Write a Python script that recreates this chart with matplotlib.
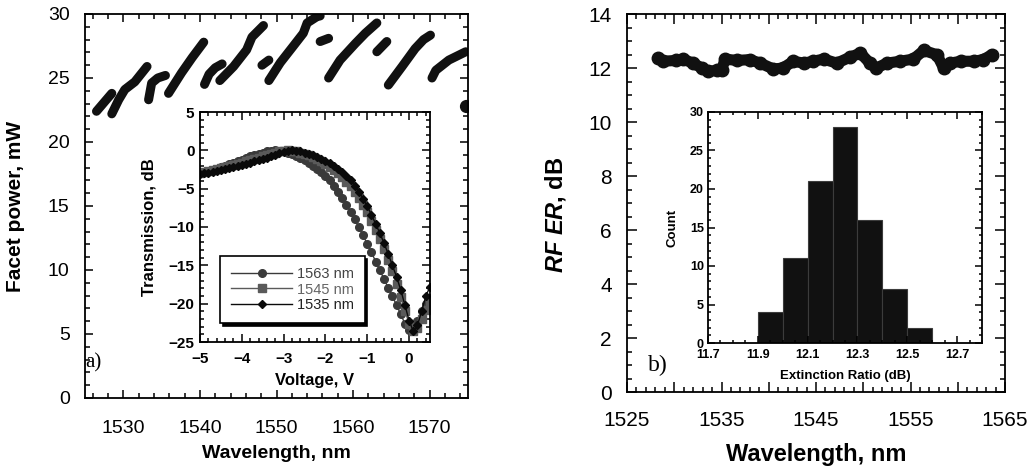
import numpy as np
import matplotlib
matplotlib.use("Agg")
import matplotlib.pyplot as plt
from matplotlib.ticker import MultipleLocator, FuncFormatter

plt.rcParams['font.family'] = ['Liberation Sans', 'DejaVu Sans']
plt.rcParams['mathtext.fontset'] = 'custom'
plt.rcParams['mathtext.rm'] = 'Liberation Sans'
plt.rcParams['mathtext.bf'] = 'Liberation Sans:bold'
plt.rcParams['mathtext.it'] = 'Liberation Sans:italic'
plt.rcParams['mathtext.bfit'] = 'Liberation Sans:italic:bold'

# ---- (a) facet power vs wavelength: mode-hop segments ----
seg_wl = [
    [1526.5, 1527.5, 1528.5],
    [1528.5, 1529.4, 1530.2, 1531.5, 1533.1],
    [1533.3, 1533.7, 1534.5, 1535.5],
    [1535.9, 1537.6, 1539.0, 1540.5],
    [1540.6, 1541.2, 1542.0, 1542.9],
    [1542.6, 1544.4, 1546.1, 1546.8, 1548.3],
    [1548.1, 1549.0],
    [1549.0, 1550.5, 1552.2, 1553.5, 1554.0, 1555.3, 1555.7],
    [1555.7, 1556.8],
    [1556.8, 1558.3, 1560.3, 1561.6, 1563.1],
    [1563.1, 1564.4],
    [1564.6, 1566.4, 1568.1, 1569.2, 1570.1],
    [1570.3, 1570.8, 1572.5, 1574.7],
    [1574.7],
]
seg_pw = [
    [22.4, 23.1, 23.8],
    [22.2, 23.3, 24.1, 24.7, 25.9],
    [23.3, 24.6, 25.0, 25.2],
    [23.8, 25.4, 26.6, 27.8],
    [24.5, 25.3, 25.8, 26.1],
    [24.8, 25.9, 27.2, 28.2, 29.1],
    [26.0, 26.4],
    [24.8, 26.2, 27.5, 28.5, 29.3, 29.8, 29.85],
    [27.85, 28.1],
    [25.0, 26.4, 27.7, 28.5, 29.3],
    [27.05, 27.85],
    [24.45, 25.9, 27.3, 28.0, 28.35],
    [25.0, 25.6, 26.4, 27.05],
    [22.8],
]

# ---- (a) inset: transmission vs voltage ----
voltage = np.round(np.arange(-5.0, 0.51, 0.1), 2)
t_1563 = [-3.0, -2.85, -2.7, -2.55, -2.4, -2.2, -2.0, -1.8, -1.6, -1.4,
          -1.2, -1.0, -0.8, -0.6, -0.45, -0.3, -0.15, -0.05, 0.0, -0.05,
          -0.15, -0.3, -0.5, -0.75, -1.0, -1.3, -1.65, -2.0, -2.4, -2.85,
          -3.3, -3.9, -4.6, -5.4, -6.2, -7.1, -8.0, -9.0, -10.0, -11.1,
          -12.2, -13.3, -14.5, -15.6, -16.8, -17.9, -19.0, -20.2, -21.4, -22.6,
          -23.4, -23.2, -22.2, -21.0, -20.0, -19.2]
t_1545 = [-2.9, -2.8, -2.7, -2.6, -2.5, -2.35, -2.2, -2.05, -1.9, -1.75,
          -1.6, -1.45, -1.3, -1.1, -0.95, -0.8, -0.6, -0.45, -0.3, -0.15,
          -0.05, 0.0, -0.05, -0.15, -0.3, -0.45, -0.65, -0.9, -1.15, -1.45,
          -1.8, -2.15, -2.55, -3.0, -3.5, -4.1, -4.7, -5.4, -6.2, -7.1,
          -8.1, -9.2, -10.4, -11.6, -12.9, -14.3, -15.8, -17.4, -19.1, -20.9,
          -22.6, -23.6, -23.2, -22.0, -20.8, -19.9]
t_1535 = [-3.1, -3.0, -2.9, -2.8, -2.7, -2.6, -2.5, -2.35, -2.2, -2.05,
          -1.9, -1.75, -1.6, -1.45, -1.3, -1.15, -0.95, -0.75, -0.55, -0.35,
          -0.2, -0.05, 0.0, -0.05, -0.15, -0.3, -0.45, -0.65, -0.85, -1.1,
          -1.35, -1.65, -2.0, -2.4, -2.85, -3.35, -3.9, -4.6, -5.4, -6.3,
          -7.3, -8.4, -9.6, -10.8, -12.1, -13.5, -15.0, -16.5, -18.2, -20.2,
          -22.2, -23.6, -22.8, -21.0, -19.0, -17.8]

# ---- (b) RF extinction ratio vs wavelength ----
er_wl = [1528.3, 1528.8, 1530.2, 1530.9, 1532.0, 1532.9, 1533.6, 1534.5, 1535.0,
         1535.4, 1536.6, 1538.0, 1539.1, 1540.5, 1541.5, 1542.6, 1543.7, 1544.7,
         1545.8, 1547.2, 1548.6, 1549.7, 1550.7, 1551.4, 1552.5, 1553.9, 1555.3,
         1556.4, 1557.8, 1558.5, 1559.2, 1560.3, 1561.7, 1562.7, 1563.6]
er_db = [12.37, 12.25, 12.28, 12.33, 12.18, 12.0, 11.88, 11.91, 11.94,
         12.33, 12.28, 12.31, 12.18, 11.96, 12.0, 12.25, 12.18, 12.25,
         12.33, 12.18, 12.4, 12.55, 12.18, 12.0, 12.18, 12.25, 12.33,
         12.65, 12.49, 12.0, 12.18, 12.25, 12.25, 12.31, 12.49]

# ---- (b) inset histogram ----
bin_left = [11.9, 12.0, 12.1, 12.2, 12.3, 12.4, 12.5]
counts = [4, 11, 21, 28, 16, 7, 2]

W, H = 1031, 468
fig = plt.figure(figsize=(W / 100, H / 100), dpi=100)


def box(x0, y0, x1, y1):
    # pixel box -> figure fraction rect
    return [x0 / W, 1 - y1 / H, (x1 - x0) / W, (y1 - y0) / H]


def style_ticks(ax, length=6, mlength=3.5, pad=4, size=12):
    ax.tick_params(which='both', direction='in', top=True, right=True, width=1.1)
    ax.tick_params(which='major', length=length, pad=pad, labelsize=size)
    ax.tick_params(which='minor', length=mlength)
    for s in ax.spines.values():
        s.set_linewidth(1.3)


# ===== left panel =====
ax1 = fig.add_axes(box(85, 14, 468, 398))
for wl, pw in zip(seg_wl, seg_pw):
    if len(wl) == 1:
        ax1.plot(wl, pw, 'o', color='#111111', ms=8.5)
    else:
        ax1.plot(wl, pw, '-', color='#111111', lw=6.5,
                 solid_capstyle='round', solid_joinstyle='round')
ax1.set_xlim(1525, 1575)
ax1.set_ylim(0, 30)
ax1.xaxis.set_major_locator(MultipleLocator(10))
ax1.xaxis.set_minor_locator(MultipleLocator(2))
ax1.yaxis.set_major_locator(MultipleLocator(5))
ax1.yaxis.set_minor_locator(MultipleLocator(1))
style_ticks(ax1, pad=11, size=14)
ax1.tick_params(axis='x', pad=16)
ax1.set_xlabel('Wavelength, nm', fontsize=14, fontweight='bold')
ax1.set_ylabel('Facet power, mW', fontsize=15, fontweight='bold')
ax1.xaxis.set_label_coords(0.5, -0.122)
ax1.yaxis.set_label_coords(-0.157, 0.5)
ax1.text(0.0, 0.091, 'a)', transform=ax1.transAxes, ha='left', va='center',
         fontsize=15, family='Liberation Serif')

# inset (a)
ax2 = fig.add_axes(box(200, 112, 430, 342))
ax2.plot(voltage, t_1563, '-o', color='#3a3a3a', lw=1, ms=5.5, label='1563 nm')
ax2.plot(voltage, t_1545, '-s', color='#5a5a5a', lw=1, ms=5.2, label='1545 nm')
ax2.plot(voltage, t_1535, '-D', color='#0a0a0a', lw=1, ms=4.3, label='1535 nm')
ax2.set_xlim(-5, 0.5)
ax2.set_ylim(-25, 5)
ax2.xaxis.set_major_locator(MultipleLocator(1))
ax2.xaxis.set_minor_locator(MultipleLocator(0.2))
ax2.yaxis.set_major_locator(MultipleLocator(5))
ax2.yaxis.set_minor_locator(MultipleLocator(1))
style_ticks(ax2, length=6, mlength=3, pad=4, size=11)
ax2.tick_params(axis='x', pad=7)
plt.setp(ax2.get_xticklabels() + ax2.get_yticklabels(), fontweight='bold')
ax2.set_xlabel('Voltage, V', fontsize=12, fontweight='bold')
ax2.set_ylabel('Transmission, dB', fontsize=12, fontweight='bold')
ax2.xaxis.set_label_coords(0.5, -0.135)
ax2.yaxis.set_label_coords(-0.187, 0.5)
leg = ax2.legend(loc='lower left', bbox_to_anchor=(0.087, 0.083), fontsize=10.5,
                 handlelength=4.2, handletextpad=0.3, labelspacing=0.1,
                 borderpad=0.75, borderaxespad=0, fancybox=False, framealpha=1,
                 edgecolor='black', shadow={'color': 'black', 'alpha': 1})
leg.get_frame().set_linewidth(1.2)
for t, c in zip(leg.get_texts(), ['#444444', '#666666', '#222222']):
    t.set_color(c)

# ===== right panel =====
ax3 = fig.add_axes(box(627, 14, 1005, 392))
ax3.plot(er_wl, er_db, '-o', color='#111111', lw=8, ms=9,
         solid_capstyle='round', solid_joinstyle='round')
ax3.set_xlim(1525, 1565)
ax3.set_ylim(0, 14)
ax3.xaxis.set_major_locator(MultipleLocator(5))
ax3.xaxis.set_minor_locator(MultipleLocator(1))
ax3.xaxis.set_major_formatter(FuncFormatter(
    lambda v, p: '%d' % round(v) if round(v - 1525) % 10 == 0 else ''))
ax3.yaxis.set_major_locator(MultipleLocator(2))
ax3.yaxis.set_minor_locator(MultipleLocator(0.5))
style_ticks(ax3, length=7, mlength=3.5, pad=11, size=15)
ax3.tick_params(axis='x', pad=14)
ax3.set_xlabel('Wavelength, nm', fontsize=17, fontweight='bold')
ax3.set_ylabel(r'$\mathbfit{RF\ ER}$, dB', fontsize=17, fontweight='bold')
ax3.xaxis.set_label_coords(0.5, -0.135)
ax3.yaxis.set_label_coords(-0.156, 0.47)
ax3.text(0.056, 0.069, 'b)', transform=ax3.transAxes, ha='left', va='center',
         fontsize=17, family='Liberation Serif')

# inset (b)
ax4 = fig.add_axes(box(708, 112, 982, 343))
ax4.bar(bin_left, counts, width=0.1, align='edge', color='#111111',
        edgecolor='#3c3c3c', linewidth=0.8)
ax4.set_xlim(11.7, 12.8)
ax4.set_ylim(0, 30)
ax4.xaxis.set_major_locator(MultipleLocator(0.2, offset=0.1))
ax4.xaxis.set_minor_locator(MultipleLocator(0.05))
ax4.xaxis.set_major_formatter(FuncFormatter(lambda v, p: '%.1f' % v))
ax4.yaxis.set_major_locator(MultipleLocator(5))
ax4.yaxis.set_minor_locator(MultipleLocator(1))
style_ticks(ax4, length=5, mlength=2.5, pad=3, size=9)
ax4.tick_params(axis='x', pad=4.5)
plt.setp(ax4.get_xticklabels() + ax4.get_yticklabels(), fontweight='bold')
ax4.set_xlabel('Extinction Ratio (dB)', fontsize=9.5, fontweight='bold')
ax4.set_ylabel('Count', fontsize=9.5, fontweight='bold')
ax4.xaxis.set_label_coords(0.5, -0.117)
ax4.yaxis.set_label_coords(-0.109, 0.5)

fig.savefig('out.png', dpi=100)
